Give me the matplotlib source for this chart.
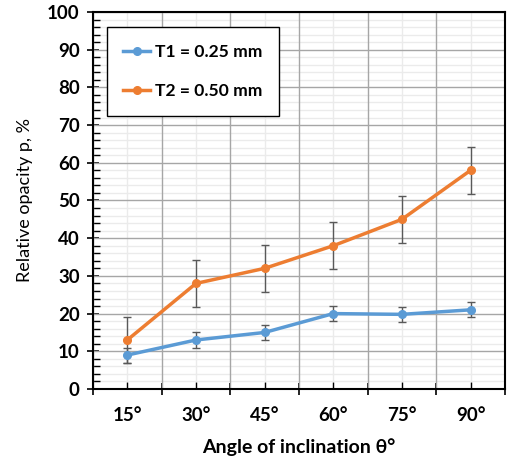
import matplotlib.pyplot as plt
import numpy as np
from matplotlib.ticker import MultipleLocator, FixedLocator

# data
angles = ['15°', '30°', '45°', '60°', '75°', '90°']
t1_values = [9, 13, 15, 20, 19.8, 21]
t1_errors = [2, 2, 2, 2, 2, 2]
t2_values = [13, 28, 32, 38, 45, 58]
t2_errors = [6.2, 6.2, 6.2, 6.2, 6.2, 6.2]
series_labels = ['T1 = 0.25 mm', 'T2 = 0.50 mm']
series_colors = ['#5B9BD5', '#ED7D31']

plt.rcParams['font.family'] = ['Lato', 'DejaVu Sans']

fig = plt.figure(figsize=(5.12, 4.59), dpi=100)
ax = fig.add_axes([0.1816, 0.1525, 0.8045, 0.8214])

x = np.arange(len(angles))
handles = []
for vals, errs, lab, col in zip([t1_values, t2_values], [t1_errors, t2_errors],
                                series_labels, series_colors):
    cont = ax.errorbar(x, vals, yerr=errs, color=col, lw=2.5, marker='o', ms=5.5,
                       ecolor='#595959', elinewidth=1.0, capsize=3, capthick=1.0,
                       zorder=3)
    cont.lines[0].set_label(lab)
    handles.append(cont.lines[0])

ax.set_xlim(-0.5, len(angles) - 0.5)
ax.set_ylim(0, 100)

# category boundaries are major ticks, centres are minor (labelled)
ax.xaxis.set_major_locator(FixedLocator(np.arange(-0.5, len(angles), 1.0)))
ax.xaxis.set_minor_locator(FixedLocator(x))
ax.set_xticklabels([])
ax.set_xticks(x, minor=True)
ax.set_xticklabels(angles, minor=True, fontsize=13.5, fontweight='bold')
ax.yaxis.set_major_locator(MultipleLocator(10))
ax.yaxis.set_minor_locator(MultipleLocator(2))
for lab in ax.get_yticklabels():
    lab.set_fontsize(13.5)
    lab.set_fontweight('bold')

ax.tick_params(axis='both', which='major', direction='inout', length=9, width=1.2)
ax.tick_params(axis='both', which='minor', direction='in', length=5, width=1.0)
ax.tick_params(axis='x', which='minor', pad=13)
ax.tick_params(axis='y', which='major', pad=5)

# light minor grid, then the darker major grid drawn on top of it
ax.grid(which='minor', color='#ebebeb', lw=1.0)
ax.set_axisbelow(True)
for xv in ax.xaxis.get_majorticklocs():
    ax.axvline(xv, color='#a6a6a6', lw=1.0, zorder=1)
for yv in ax.yaxis.get_majorticklocs():
    ax.axhline(yv, color='#a6a6a6', lw=1.0, zorder=1)
for s in ax.spines.values():
    s.set_linewidth(1.5)
    s.set_color('black')

ax.set_xlabel('Angle of inclination θ°', fontsize=14, fontweight='bold', labelpad=10)
ax.set_ylabel('Relative opacity p, %', fontsize=13, labelpad=10)

leg = ax.legend(handles=handles, loc='upper left', bbox_to_anchor=(0.033, 0.96),
                prop={'weight': 'bold', 'size': 12.6}, frameon=True, fancybox=False,
                edgecolor='black', labelspacing=1.35, handlelength=1.55,
                borderpad=0.95, handletextpad=0.25, borderaxespad=0, framealpha=1)
leg.get_frame().set_linewidth(1.0)

fig.savefig('out.png', dpi=100)
